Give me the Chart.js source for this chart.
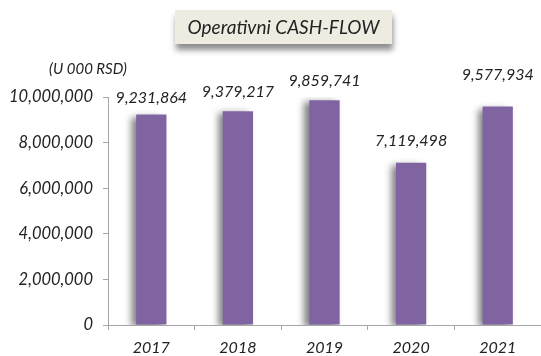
<!DOCTYPE html>
<html>
<head>
<meta charset="utf-8">
<script src="https://cdn.jsdelivr.net/npm/chart.js@4.4.1/dist/chart.umd.min.js"></script>
<style>
  html, body { margin: 0; padding: 0; background: #fff; }
  #wrap { position: relative; width: 541px; height: 356px; }
  #title {
    position: absolute; left: 175px; top: 10px; width: 217px; height: 34px;
    background: #eeece1; box-shadow: 1px 6px 6px rgba(0, 0, 0, 0.45);
    font: italic 19px Lato, "Open Sans", sans-serif; color: #222;
    line-height: 34px; text-align: center;
  }
</style>
</head>
<body>
<div id="wrap">
  <canvas id="chart" width="541" height="356"></canvas>
  <div id="title">Operativni CASH-FLOW</div>
</div>
<script>
// Operating cash flow per year, thousands of RSD
const years = ['2017', '2018', '2019', '2020', '2021'];
const cashFlow = [9231864, 9379217, 9859741, 7119498, 9577934];
const yTicks = [0, 2000000, 4000000, 6000000, 8000000, 10000000];
const unitLabel = '(U 000 RSD)';

const FONT = 'Lato, "Open Sans", sans-serif';
const fmt = v => v.toLocaleString('en-US');

// value labels over the bars; the last one sits a bit higher
const labelLift = [17, 19, 19, 22, 32];

const valueLabels = {
    id: 'valueLabels',
    afterDatasetsDraw(chart) {
        const ctx = chart.ctx;
        const meta = chart.getDatasetMeta(0);
        ctx.save();
        ctx.font = 'italic 16px ' + FONT;
        ctx.fillStyle = '#222';
        ctx.textAlign = 'center';
        ctx.textBaseline = 'bottom';
        meta.data.forEach((bar, i) => {
            ctx.fillText(fmt(cashFlow[i]), bar.x, bar.y - labelLift[i] + 8);
        });
        // unit caption above the value axis
        ctx.font = 'italic 15px ' + FONT;
        ctx.fillText(unitLabel, 88, 77);
        ctx.restore();
    }
};

const barShadow = {
    id: 'barShadow',
    beforeDatasetsDraw(chart) {
        const ctx = chart.ctx;
        ctx.save();
        ctx.shadowColor = 'rgba(0, 0, 0, 0.5)';
        ctx.shadowBlur = 7;
        ctx.shadowOffsetX = -5;
        ctx.shadowOffsetY = 2;
    },
    afterDatasetsDraw(chart) {
        chart.ctx.restore();
    }
};

new Chart(document.getElementById('chart'), {
    type: 'bar',
    data: {
        labels: years,
        datasets: [{
            data: cashFlow,
            backgroundColor: '#8064a2',
            barPercentage: 0.35,
            categoryPercentage: 1
        }]
    },
    options: {
        responsive: false,
        animation: false,
        layout: { padding: { top: 97, right: 0, left: 0, bottom: 0 } },
        plugins: {
            legend: { display: false },
            tooltip: { enabled: false }
        },
        scales: {
            x: {
                offset: true,
                grid: { offset: true, drawOnChartArea: false, tickLength: 5, color: '#a6a6a6' },
                border: { color: '#a6a6a6' },
                ticks: {
                    color: '#222', padding: 8,
                    font: { family: FONT, size: 16, style: 'italic' }
                },
                afterFit(axis) { axis.height = 31; }
            },
            y: {
                min: 0, max: 10000000,
                afterBuildTicks(axis) { axis.ticks = yTicks.map(v => ({ value: v })); },
                grid: { drawOnChartArea: false, tickLength: 5, color: '#a6a6a6' },
                border: { color: '#a6a6a6' },
                ticks: {
                    color: '#222', padding: 10,
                    font: { family: FONT, size: 16.5, style: 'italic' },
                    callback: v => fmt(v)
                },
                afterFit(axis) { axis.width = 108; }
            }
        }
    },
    plugins: [barShadow, valueLabels]
});
</script>
</body>
</html>
